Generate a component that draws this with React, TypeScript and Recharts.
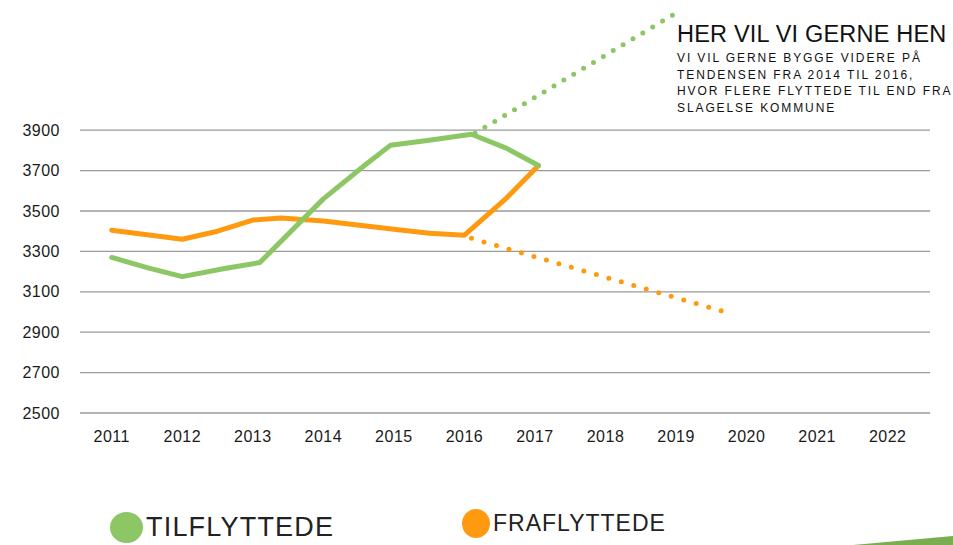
import { LineChart, Line, XAxis, YAxis, CartesianGrid } from 'recharts'

const years = [2011, 2012, 2013, 2014, 2015, 2016, 2017, 2018, 2019, 2020, 2021, 2022]
const yTicks = [2500, 2700, 2900, 3100, 3300, 3500, 3700, 3900]

// tilflyttede (green)
const tilYears = [2011, 2011.5, 2012, 2012.6, 2013.1, 2014, 2014.6, 2014.95, 2015.5, 2016.1, 2016.6, 2017.05]
const tilValues = [3270, 3220, 3175, 3215, 3245, 3560, 3730, 3825, 3850, 3880, 3810, 3725]

// fraflyttede (orange)
const fraYears = [2011, 2012, 2012.5, 2013, 2013.4, 2014, 2015, 2015.5, 2016, 2016.6, 2017.05]
const fraValues = [3405, 3360, 3400, 3455, 3465, 3450, 3410, 3390, 3380, 3565, 3725]

// wished-for trends (dotted)
const tilGoalYears = [2016.15, 2019]
const tilGoalValues = [3885, 4480]
const fraGoalYears = [2016.1, 2019.7]
const fraGoalValues = [3365, 3000]

const GREEN = '#8cc665'
const ORANGE = '#ff9a10'
const FONT = '"Liberation Sans", Arial, sans-serif'

const toRows = (xs: number[], ys: number[]) => xs.map((x, i) => ({ x, y: ys[i] }))

export default function App() {
  return (
    <div style={{ position: 'relative', width: 953, height: 545, background: '#fff', fontFamily: FONT }}>
      <style>{`body{margin:0}`}</style>
      <LineChart width={953} height={545} margin={{ top: 9, right: 23, left: 0, bottom: 102 }}>
        <CartesianGrid vertical={false} horizontalValues={yTicks} stroke="#9a9a9a" strokeWidth={1.3} />
        <XAxis
          type="number"
          dataKey="x"
          domain={[2010.55, 2022.6]}
          ticks={years}
          allowDataOverflow
          axisLine={false}
          tickLine={false}
          tickSize={0}
          tickMargin={18}
          height={30}
          tick={{ fill: '#1a1a1a', fontSize: 16, fontFamily: FONT, letterSpacing: 0.5 }}
        />
        <YAxis
          type="number"
          dataKey="y"
          domain={[2500, 4500]}
          ticks={yTicks}
          allowDataOverflow
          width={80}
          axisLine={false}
          tickLine={false}
          tickSize={0}
          tickMargin={20}
          tick={{ fill: '#1a1a1a', fontSize: 16, fontFamily: FONT, letterSpacing: 0.5 }}
        />
        <Line
          data={toRows(tilGoalYears, tilGoalValues)}
          dataKey="y"
          stroke={GREEN}
          strokeWidth={5}
          strokeDasharray="0 11.5"
          strokeLinecap="round"
          dot={false}
          activeDot={false}
          isAnimationActive={false}
        />
        <Line
          data={toRows(fraGoalYears, fraGoalValues)}
          dataKey="y"
          stroke={ORANGE}
          strokeWidth={5}
          strokeDasharray="0 13"
          strokeLinecap="round"
          dot={false}
          activeDot={false}
          isAnimationActive={false}
        />
        <Line
          data={toRows(fraYears, fraValues)}
          dataKey="y"
          stroke={ORANGE}
          strokeWidth={5}
          strokeLinejoin="round"
          strokeLinecap="round"
          dot={false}
          activeDot={false}
          isAnimationActive={false}
        />
        <Line
          data={toRows(tilYears, tilValues)}
          dataKey="y"
          stroke={GREEN}
          strokeWidth={5}
          strokeLinejoin="round"
          strokeLinecap="round"
          dot={false}
          activeDot={false}
          isAnimationActive={false}
        />
      </LineChart>

      <div style={{ position: 'absolute', left: 677, top: 19, color: '#111', whiteSpace: 'nowrap' }}>
        <div style={{ fontSize: 23.5, lineHeight: '30px', letterSpacing: 0.2 }}>HER VIL VI GERNE HEN</div>
        <div style={{ fontSize: 12, lineHeight: '16.5px', letterSpacing: 1.9, marginTop: 1 }}>
          <div>VI VIL GERNE BYGGE VIDERE PÅ</div>
          <div>TENDENSEN FRA 2014 TIL 2016,</div>
          <div>HVOR FLERE FLYTTEDE TIL END FRA</div>
          <div>SLAGELSE KOMMUNE</div>
        </div>
      </div>

      <div style={{ position: 'absolute', left: 110, top: 512, display: 'flex', alignItems: 'center' }}>
        <div style={{ width: 33, height: 31, borderRadius: '50%', background: GREEN }} />
        <span style={{ fontSize: 27, marginLeft: 3, letterSpacing: 1.2, color: '#222' }}>TILFLYTTEDE</span>
      </div>
      <div style={{ position: 'absolute', left: 462, top: 509, display: 'flex', alignItems: 'center' }}>
        <div style={{ width: 28, height: 29, borderRadius: '50%', background: ORANGE }} />
        <span style={{ fontSize: 23, marginLeft: 3, letterSpacing: 1, color: '#222' }}>FRAFLYTTEDE</span>
      </div>

      <svg width={953} height={545} style={{ position: 'absolute', left: 0, top: 0, pointerEvents: 'none' }}>
        <polygon points="853,545 953,536 953,545" fill="#7aad50" />
      </svg>
    </div>
  )
}
